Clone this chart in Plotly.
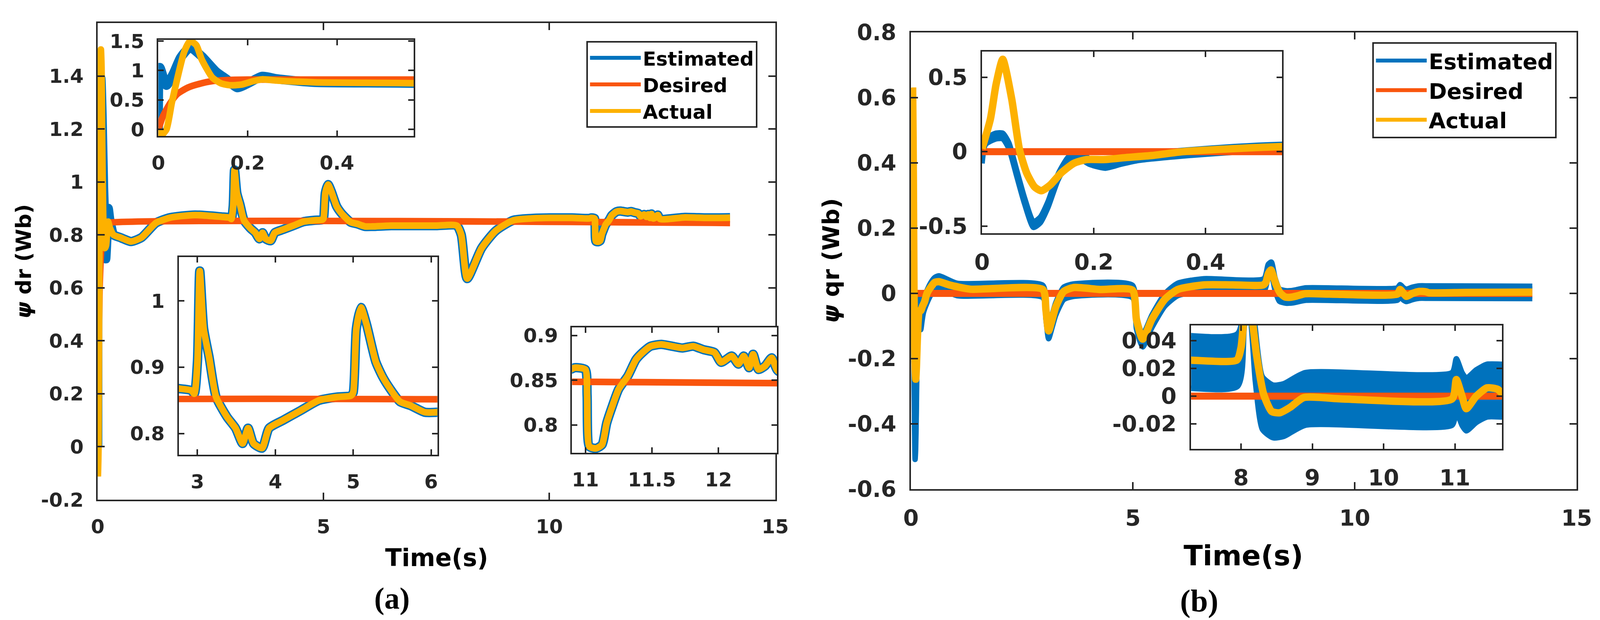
import plotly.graph_objects as go

W, H = 4324, 1587

BLUE = "#0072BD"
ORANGE = "#F9550D"
YELLOW = "#FDB100"
INK = "#262626"
FONT = "DejaVu Sans"

# ---------------- panel (a): psi_dr ----------------
t_act_a = [0, 0.006, 0.018, 0.03, 0.042, 0.058, 0.071, 0.085, 0.097, 0.121,
           0.141, 0.161, 0.185, 0.208, 0.232, 0.264, 0.35, 0.5, 0.57, 0.74,
           0.97, 1.29, 1.6, 2.15, 2.74, 2.92, 2.96, 3.0, 3.03, 3.08,
           3.15, 3.24, 3.38, 3.49, 3.58, 3.65, 3.72, 3.83, 3.92, 4.1,
           4.33, 4.56, 4.79, 4.97, 5.0, 5.04, 5.1, 5.17, 5.29, 5.38,
           5.47, 5.6, 5.74, 5.92, 6.08, 6.5, 7.0, 7.5, 7.95, 8.05,
           8.18, 8.5, 8.81, 9.2, 9.6, 10.0, 10.5, 10.885, 10.92, 11.0,
           11.013, 11.03, 11.08, 11.125, 11.16, 11.2, 11.25, 11.32, 11.38, 11.43,
           11.49, 11.57, 11.65, 11.73, 11.81, 11.89, 11.97, 12.02, 12.1, 12.15,
           12.19, 12.23, 12.26, 12.3, 12.35, 12.4, 12.45, 13.0, 13.5, 14.0]
act_a = [0.0, -0.1, 0.0, 0.45, 0.85, 1.32, 1.5, 1.43, 1.19, 0.88,
         0.78, 0.75, 0.76, 0.81, 0.85, 0.83, 0.80, 0.79, 0.785, 0.775,
         0.79, 0.845, 0.865, 0.875, 0.868, 0.865, 0.86, 0.908, 1.045, 0.958,
         0.915, 0.855, 0.825, 0.808, 0.785, 0.808, 0.785, 0.778, 0.808, 0.82,
         0.835, 0.85, 0.855, 0.857, 0.862, 0.958, 0.99, 0.965, 0.908, 0.885,
         0.868, 0.848, 0.842, 0.832, 0.832, 0.835, 0.835, 0.835, 0.835, 0.80,
         0.635, 0.75, 0.815, 0.855, 0.862, 0.864, 0.864, 0.862, 0.864, 0.862,
         0.833, 0.776, 0.774, 0.778, 0.802, 0.82, 0.84, 0.855, 0.873, 0.881,
         0.888, 0.89, 0.888, 0.886, 0.888, 0.884, 0.881, 0.87, 0.877, 0.868,
         0.877, 0.864, 0.879, 0.862, 0.866, 0.875, 0.86, 0.866, 0.864, 0.865]

# estimated differs from actual only during the start-up transient
t_est_a_start = [0, 0.003, 0.018, 0.034, 0.05, 0.071, 0.097, 0.129, 0.153, 0.177,
                 0.2, 0.232, 0.264, 0.3]
est_a_start = [0.0, 1.05, 0.75, 0.95, 1.22, 1.39, 1.24, 0.98, 0.85, 0.71,
               0.78, 0.9, 0.86, 0.83]
t_est_a = t_est_a_start + t_act_a[16:]
est_a = est_a_start + act_a[16:]

t_des_a = [0, 0.01, 0.026, 0.042, 0.066, 0.09, 0.121, 0.161, 0.2, 14.0]
des_a = [0, 0.22, 0.44, 0.6, 0.71, 0.77, 0.82, 0.84, 0.845, 0.845]

# ---------------- panel (b): psi_qr ----------------
t_act_b = [0, 0.015, 0.025, 0.037, 0.053, 0.067, 0.08, 0.094, 0.106, 0.122,
           0.141, 0.164, 0.187, 0.22, 0.257, 0.304, 0.36, 0.45, 0.537, 0.63,
           0.86, 1.33, 2.97, 3.04, 3.1, 3.18, 3.26, 3.44, 3.67, 4.26,
           4.99, 5.08, 5.22, 5.43, 5.72, 6.01, 6.6, 7.25, 7.94, 8.0,
           8.05, 8.11, 8.17, 8.22, 8.32, 8.43, 8.54, 8.69, 8.88, 9.43,
           10.96, 11.02, 11.1, 11.16, 11.3, 11.45, 11.6, 11.67, 12.5, 14.0]
act_b = [0.02, 0.22, 0.45, 0.62, 0.355, 0.013, -0.145, -0.237, -0.263, -0.224,
         -0.145, -0.079, -0.053, -0.053, -0.04, -0.026, 0.0, 0.02, 0.034, 0.036,
         0.026, 0.013, 0.012, -0.05, -0.115, -0.08, -0.042, 0.006, 0.018, 0.012,
         0.01, -0.08, -0.14, -0.079, -0.018, 0.012, 0.026, 0.026, 0.026, 0.035,
         0.06, 0.072, 0.05, 0.029, 0.001, -0.011, -0.012, -0.008, -0.001, -0.002,
         -0.002, 0.012, 0.0, -0.009, 0.0, 0.006, 0.005, 0.002, 0.003, 0.004]

t_est_b = [0, 0.006, 0.025, 0.037, 0.048, 0.062, 0.076, 0.092, 0.104, 0.118,
           0.136, 0.155, 0.173, 0.192, 0.22, 0.248, 0.28, 0.36, 0.45, 0.537,
           0.63, 1.04, 2.97, 3.04, 3.1, 3.18, 3.26, 3.44, 3.67, 4.99,
           5.08, 5.22, 5.43, 5.72, 6.01, 6.6, 7.95, 8.05, 8.12, 8.2,
           8.3, 8.45, 8.6, 8.9, 10.96, 11.02, 11.1, 11.16, 11.3, 11.45, 11.67, 14.0]
est_b = [-0.06, 0.066, 0.105, 0.105, 0.04, -0.145, -0.33, -0.49, -0.46, -0.355,
         -0.17, -0.053, -0.026, -0.066, -0.092, -0.066, -0.04, -0.01, 0.015, 0.03,
         0.035, 0.012, 0.006, -0.06, -0.12, -0.085, -0.048, 0.0, 0.01, 0.006,
         -0.09, -0.145, -0.085, -0.02, 0.012, 0.026, 0.026, 0.07, 0.077, 0.03,
         -0.005, -0.011, -0.01, -0.002, -0.002, 0.008, -0.002, -0.006, 0.0, 0.004,
         0.004, 0.003]
est_b_noise = 0.019  # half height of the noisy estimated band

t_des_b = [0, 14.0]
des_b = [0, 0]

# ---------------- ticks ----------------
main_x_ticks = [0, 5, 10, 15]
ya_ticks = [-0.2, 0, 0.2, 0.4, 0.6, 0.8, 1, 1.2, 1.4]
yb_ticks = [-0.6, -0.4, -0.2, 0, 0.2, 0.4, 0.6, 0.8]
a1_x_ticks, a1_y_ticks = [0, 0.2, 0.4], [0, 0.5, 1, 1.5]
a2_x_ticks, a2_y_ticks = [3, 4, 5, 6], [0.8, 0.9, 1]
a3_x_ticks, a3_y_ticks = [11, 11.5, 12], [0.8, 0.85, 0.9]
b1_x_ticks, b1_y_ticks = [0, 0.2, 0.4], [-0.5, 0, 0.5]
b2_x_ticks, b2_y_ticks = [8, 9, 10, 11], [-0.02, 0, 0.02, 0.04]


def lab(v):
    return "%g" % v


def dom(x0, x1, y0, y1):
    return [x0 / W, x1 / W], [1 - y1 / H, 1 - y0 / H]


# subplot boxes in pixels (x0, x1, y0, y1) and ranges
panels = {
    1: dict(box=(264, 2095, 59, 1279), xr=[0, 15], yr=[-0.2, 1.6],
            xt=main_x_ticks, yt=ya_ticks, fs=50, tl=18),
    2: dict(box=(428, 1118, 102, 348), xr=[0, 0.572], yr=[-0.11, 1.52],
            xt=a1_x_ticks, yt=a1_y_ticks, fs=50, tl=14),
    3: dict(box=(483, 1182, 658, 1164), xr=[2.76, 6.08], yr=[0.768, 1.066],
            xt=a2_x_ticks, yt=a2_y_ticks, fs=50, tl=14),
    4: dict(box=(1546, 2100, 838, 1159), xr=[10.9, 12.44], yr=[0.769, 0.909],
            xt=a3_x_ticks, yt=a3_y_ticks, fs=50, tl=14),
    5: dict(box=(2462, 4261, 83, 1252), xr=[0, 15], yr=[-0.6, 0.8],
            xt=main_x_ticks, yt=yb_ticks, fs=57, tl=18),
    6: dict(box=(2654, 3465, 132, 597), xr=[0, 0.537], yr=[-0.548, 0.672],
            xt=b1_x_ticks, yt=b1_y_ticks, fs=57, tl=14),
    7: dict(box=(3219, 4059, 833, 1149), xr=[7.30, 11.66], yr=[-0.038, 0.051],
            xt=b2_x_ticks, yt=b2_y_ticks, fs=57, tl=14),
}

fig = go.Figure()


def curve(color, width):
    return dict(color=color, width=width, shape="spline", smoothing=0.6)


for k in (1, 2, 3, 4):
    xa = "x" if k == 1 else "x%d" % k
    ya = "y" if k == 1 else "y%d" % k
    main = k == 1
    fig.add_trace(go.Scatter(x=t_est_a, y=est_a, mode="lines", name="Estimated",
                             line=curve(BLUE, 24), xaxis=xa, yaxis=ya,
                             showlegend=main, legend="legend"))
    fig.add_trace(go.Scatter(x=t_des_a, y=des_a, mode="lines", name="Desired",
                             line=curve(ORANGE, 17), xaxis=xa, yaxis=ya,
                             showlegend=main, legend="legend"))
    fig.add_trace(go.Scatter(x=t_act_a, y=act_a, mode="lines", name="Actual",
                             line=curve(YELLOW, 17), xaxis=xa, yaxis=ya,
                             showlegend=main, legend="legend"))

est_b_lo = [v - est_b_noise for v in est_b]
est_b_hi = [v + est_b_noise for v in est_b]
for k in (5, 6, 7):
    xa, ya = "x%d" % k, "y%d" % k
    main = k == 5
    fig.add_trace(go.Scatter(x=t_est_b, y=est_b_lo, mode="lines", name="Estimated",
                             line=curve(BLUE, 14), xaxis=xa, yaxis=ya,
                             showlegend=main, legend="legend2"))
    fig.add_trace(go.Scatter(x=t_est_b, y=est_b_hi, mode="lines", name="Estimated",
                             line=curve(BLUE, 14), fill="tonexty",
                             fillcolor=BLUE, xaxis=xa, yaxis=ya, showlegend=False))
    fig.add_trace(go.Scatter(x=t_des_b, y=des_b, mode="lines", name="Desired",
                             line=curve(ORANGE, 18), xaxis=xa, yaxis=ya,
                             showlegend=main, legend="legend2"))
    fig.add_trace(go.Scatter(x=t_act_b, y=act_b, mode="lines", name="Actual",
                             line=curve(YELLOW, 19), xaxis=xa, yaxis=ya,
                             showlegend=main, legend="legend2"))

layout_axes = {}
for k, p in panels.items():
    dx, dy = dom(*p["box"])
    tf = dict(family=FONT, size=p["fs"], color=INK, weight="bold")
    common = dict(ticks="inside", ticklen=p["tl"], tickwidth=4, tickcolor=INK,
                  showline=True, linewidth=4, linecolor=INK, mirror="allticks",
                  showgrid=False, zeroline=False, tickfont=tf, fixedrange=True)
    xn = "xaxis" if k == 1 else "xaxis%d" % k
    yn = "yaxis" if k == 1 else "yaxis%d" % k
    layout_axes[xn] = dict(domain=dx, range=p["xr"], tickvals=p["xt"],
                           ticktext=[lab(v) for v in p["xt"]],
                           anchor="y" if k == 1 else "y%d" % k,
                           ticklabelstandoff=22, **common)
    layout_axes[yn] = dict(domain=dy, range=p["yr"], tickvals=p["yt"],
                           ticktext=[lab(v) for v in p["yt"]],
                           anchor="x" if k == 1 else "x%d" % k,
                           ticklabelstandoff=22, **common)

annotations = [
    dict(text="Time(s)", x=1180 / W, y=1 - 1427 / H, font=dict(size=62)),
    dict(text="Time(s)", x=3360 / W, y=1 - 1422 / H, font=dict(size=72)),
    dict(text="<i>ψ</i> dr (Wb)", x=63 / W, y=1 - 669 / H, textangle=-90,
         font=dict(size=54)),
    dict(text="<i>ψ</i> qr (Wb)", x=2245 / W, y=1 - 667 / H, textangle=-90,
         font=dict(size=59)),
    dict(text="(a)", x=1059 / W, y=1 - 1531 / H,
         font=dict(family="Liberation Serif", size=78)),
    dict(text="(b)", x=3241 / W, y=1 - 1538 / H,
         font=dict(family="Liberation Serif", size=80)),
]
for a in annotations:
    f = dict(family=FONT, color="black", weight="bold")
    f.update(a["font"])
    a["font"] = f
    a.update(xref="paper", yref="paper", showarrow=False,
             xanchor="center", yanchor="middle")

legend_common = dict(bgcolor="white", bordercolor=INK, borderwidth=4,
                     xanchor="left", yanchor="top", itemwidth=130,
                     tracegroupgap=0, traceorder="normal")
fig.update_layout(
    autosize=True,
    margin=dict(l=0, r=0, t=0, b=0, autoexpand=False),
    paper_bgcolor="white", plot_bgcolor="white",
    annotations=annotations,
    legend=dict(x=1585 / W, y=1 - 105 / H,
                font=dict(family=FONT, size=50, color="black", weight="bold"),
                **legend_common),
    legend2=dict(x=3709 / W, y=1 - 108 / H,
                 font=dict(family=FONT, size=56, color="black", weight="bold"),
                 **legend_common),
    **layout_axes,
)

# the figure fills the browser window exactly
fig.write_html("out.html", default_width="100vw", default_height="100vh",
               config={"displayModeBar": False},
               post_script="document.body.style.margin='0';"
                           "document.body.style.overflow='hidden';")
